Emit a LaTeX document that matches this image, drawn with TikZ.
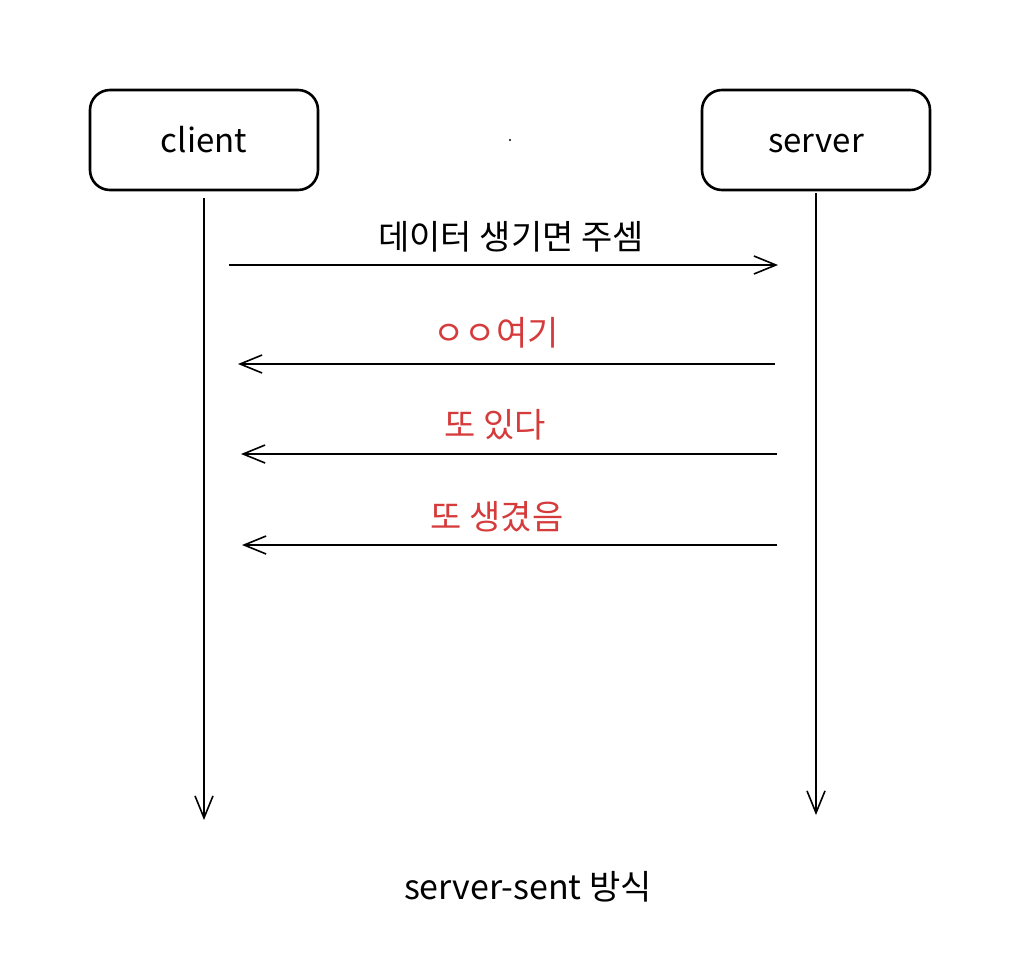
\documentclass[tikz,border=0pt]{standalone}
\usepackage{fontspec}
\setmainfont{Noto Sans CJK KR}
\usetikzlibrary{arrows.meta}
\definecolor{msgred}{HTML}{D63B3B}
\tikzset{
  actor/.style={draw, line width=2.6pt, rounded corners=20pt, minimum width=228pt,
    minimum height=100pt, text height=24pt, text depth=0pt,
    font=\fontsize{33}{36}\selectfont},
  lifeline/.style={line width=1.6pt, -{Straight Barb[length=22pt,width=18pt]}},
  msglabel/.style={font=\fontsize{34}{36}\selectfont},
}
\begin{document}
\begin{tikzpicture}[x=1pt,y=-1pt]
  \useasboundingbox (0,0) rectangle (1014,954);

  \node[actor] (client) at (204,140) {client};
  \node[actor] (server) at (816,140) {server};
  \fill (510,140) circle (1.2pt);

  % lifelines
  \coordinate (clientend) at (204,820);
  \coordinate (serverend) at (816,815);
  \draw[lifeline] ([yshift=-7pt]client.south) -- (clientend);
  \draw[lifeline] ([yshift=-2pt]server.south) -- (serverend);

  % messages
  \coordinate (ask0) at (229,265);  \coordinate (ask1) at (778,265);
  \coordinate (rep0) at (775,364);  \coordinate (rep1) at (238,364);
  \coordinate (more0) at (777,454); \coordinate (more1) at (241,454);
  \coordinate (new0) at (777,545);  \coordinate (new1) at (242,545);

  \draw[lifeline] (ask0) -- (ask1);
  \draw[lifeline] (rep0) -- (rep1);
  \draw[lifeline] (more0) -- (more1);
  \draw[lifeline] (new0) -- (new1);

  \node[msglabel] (asklabel) at (511,237) {데이터 생기면 주셈};
  \node[msglabel, text=msgred] (replabel) at (496,333) {ㅇㅇ여기};
  \node[msglabel, text=msgred] (morelabel) at (495,425) {또 있다};
  \node[msglabel, text=msgred] (newlabel) at (497,517) {또 생겼음};

  \node[msglabel] (caption) at (528,887) {server-sent 방식};
\end{tikzpicture}
\end{document}
